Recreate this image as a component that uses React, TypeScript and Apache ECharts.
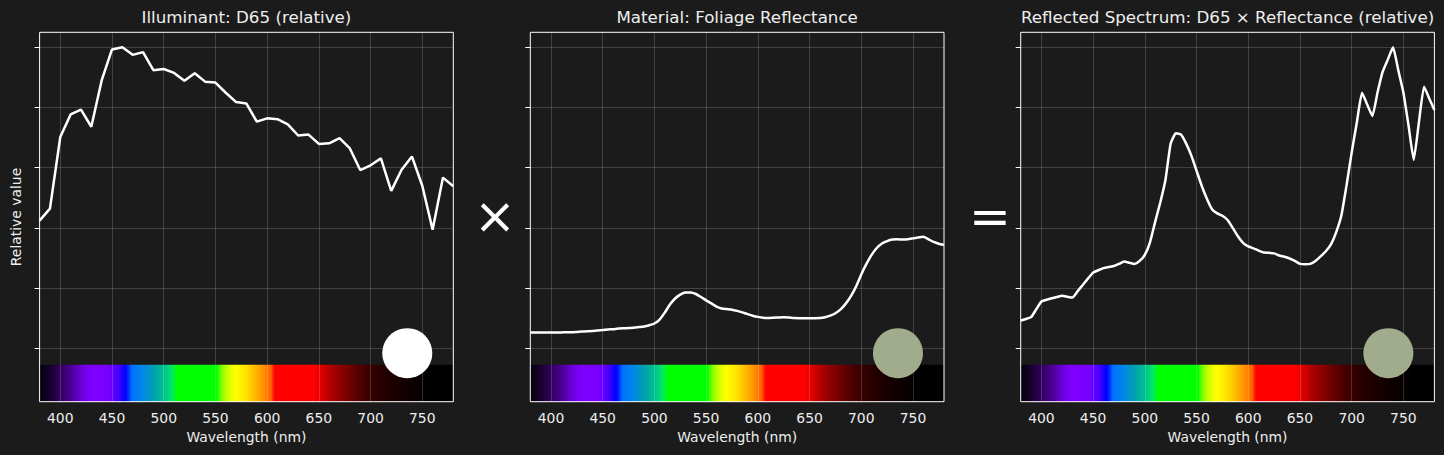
import React, { useEffect, useRef } from "react";
import * as echarts from "echarts";

const FONT = "'DejaVu Sans', sans-serif";
const BG = "#1b1b1b";
const TEXT = "#eeeeee";
const GRIDLINE = "rgba(255,255,255,0.17)";

const panelTitles = [
  "Illuminant: D65 (relative)",
  "Material: Foliage Reflectance",
  "Reflected Spectrum: D65 \u00d7 Reflectance (relative)",
];
const xAxisName = "Wavelength (nm)";
const yAxisName = "Relative value";
const xTicks = [400, 450, 500, 550, 600, 650, 700, 750];
const yTicks = [0, 0.2, 0.4, 0.6, 0.8, 1.0];
const xRange = [380, 780];
const yRange = [-0.178, 1.05];
const spectrumBand = [-0.178, -0.055];
const swatchPoint = [735.5, -0.0166];
const swatchColors = ["#ffffff", "#a0ac8b", "#a0ac8b"];

const wl10 = [380, 390, 400, 410, 420, 430, 440, 450, 460, 470, 480, 490, 500, 510, 520, 530, 540, 550, 560, 570, 580, 590, 600, 610, 620, 630, 640, 650, 660, 670, 680, 690, 700, 710, 720, 730, 740, 750, 760, 770, 780];
const d65 = [0.424, 0.464, 0.702, 0.777, 0.793, 0.736, 0.890, 0.993, 1.000, 0.975, 0.984, 0.924, 0.928, 0.915, 0.889, 0.914, 0.886, 0.883, 0.849, 0.818, 0.813, 0.753, 0.764, 0.761, 0.744, 0.707, 0.710, 0.679, 0.681, 0.698, 0.664, 0.592, 0.608, 0.631, 0.523, 0.593, 0.637, 0.540, 0.394, 0.567, 0.538];

const wl5 = [380, 385, 390, 395, 400, 405, 410, 415, 420, 425, 430, 435, 440, 445, 450, 455, 460, 465, 470, 475, 480, 485, 490, 495, 500, 505, 510, 515, 520, 525, 530, 535, 540, 545, 550, 555, 560, 565, 570, 575, 580, 585, 590, 595, 600, 605, 610, 615, 620, 625, 630, 635, 640, 645, 650, 655, 660, 665, 670, 675, 680, 685, 690, 695, 700, 705, 710, 715, 720, 725, 730, 735, 740, 745, 750, 755, 760, 765, 770, 775, 780];
const reflectance = [0.052, 0.052, 0.052, 0.052, 0.052, 0.052, 0.052, 0.053, 0.053, 0.054, 0.055, 0.056, 0.057, 0.059, 0.060, 0.062, 0.063, 0.065, 0.066, 0.067, 0.068, 0.070, 0.072, 0.076, 0.082, 0.095, 0.118, 0.145, 0.165, 0.178, 0.185, 0.185, 0.180, 0.170, 0.159, 0.149, 0.138, 0.132, 0.130, 0.128, 0.124, 0.119, 0.113, 0.108, 0.104, 0.101, 0.100, 0.101, 0.102, 0.103, 0.102, 0.100, 0.0995, 0.0995, 0.0995, 0.0995, 0.100, 0.103, 0.108, 0.116, 0.129, 0.148, 0.173, 0.205, 0.245, 0.280, 0.310, 0.333, 0.348, 0.356, 0.361, 0.362, 0.361, 0.362, 0.365, 0.368, 0.370, 0.362, 0.353, 0.347, 0.343];
const reflected = [0.092, 0.097, 0.103, 0.129, 0.155, 0.161, 0.166, 0.170, 0.174, 0.171, 0.168, 0.189, 0.210, 0.231, 0.251, 0.259, 0.266, 0.270, 0.273, 0.280, 0.288, 0.284, 0.280, 0.290, 0.310, 0.352, 0.420, 0.485, 0.560, 0.680, 0.714, 0.710, 0.680, 0.640, 0.590, 0.540, 0.497, 0.462, 0.448, 0.440, 0.426, 0.400, 0.372, 0.350, 0.338, 0.332, 0.324, 0.318, 0.317, 0.315, 0.308, 0.304, 0.298, 0.290, 0.280, 0.279, 0.280, 0.290, 0.305, 0.322, 0.345, 0.385, 0.440, 0.540, 0.650, 0.750, 0.849, 0.810, 0.772, 0.850, 0.919, 0.960, 1.000, 0.925, 0.850, 0.740, 0.626, 0.750, 0.869, 0.830, 0.792];

const spectrumStops: [number, string][] = [
  [380, "#05000a"], [390, "#18002e"], [400, "#30005c"], [410, "#4a0090"], [420, "#6a00d8"],
  [427, "#7a00f8"], [432, "#8000ff"], [446, "#7800ff"], [456, "#4800ff"], [463, "#0000ff"],
  [466, "#0030ff"], [469, "#0070ff"], [480, "#0088e8"], [490, "#00a0b0"], [500, "#00c090"],
  [508, "#00e868"], [513, "#00ff00"], [551, "#00ff00"], [556, "#80ff00"], [561, "#c0ff00"],
  [566, "#eeff00"], [570, "#ffff00"], [580, "#ffe000"], [590, "#ffb000"], [598, "#ff8800"],
  [604, "#ff6000"], [606, "#ff2000"], [608, "#ff0000"], [646, "#ff0000"], [655, "#d00000"],
  [665, "#a00000"], [680, "#700000"], [695, "#400000"], [710, "#280000"], [730, "#140000"],
  [750, "#050000"], [760, "#000000"], [780, "#000000"],
];

const gridLefts = [39.6, 530.3, 1020.7];
const GRID_TOP = 32.3;
const GRID_W = 413.7;
const GRID_H = 369.4;

export default function App() {
  const ref = useRef<HTMLDivElement>(null);
  useEffect(() => {
    if (!ref.current) return;
    const chart = echarts.init(ref.current, null, { renderer: "svg" });
    const panelData = [
      wl10.map((w, i) => [w, d65[i]]),
      wl5.map((w, i) => [w, reflectance[i]]),
      wl5.map((w, i) => [w, reflected[i]]),
    ];
    const gradient = {
      type: "linear",
      x: 0, y: 0, x2: 1, y2: 0,
      colorStops: spectrumStops.map(([w, c]) => ({ offset: (w - xRange[0]) / (xRange[1] - xRange[0]), color: c })),
    };
    const grids = gridLefts.map((l) => ({
      left: l, top: GRID_TOP, width: GRID_W, height: GRID_H,
      show: true, borderColor: "#ffffff", borderWidth: 1, backgroundColor: "transparent",
    }));
    const xAxes = gridLefts.map((_, i) => ({
      type: "value", gridIndex: i, min: xRange[0], max: xRange[1],
      name: xAxisName, nameLocation: "middle", nameGap: 28,
      nameTextStyle: { color: TEXT, fontFamily: FONT, fontSize: 13.9 },
      axisLine: { show: false },
      axisTick: { show: false, customValues: xTicks },
      axisLabel: { show: true, customValues: xTicks, color: TEXT, fontFamily: FONT, fontSize: 13.9, margin: 9 },
      splitLine: { show: true, lineStyle: { color: GRIDLINE, width: 1 } },
    }));
    const yAxes = gridLefts.map((_, i) => ({
      type: "value", gridIndex: i, min: yRange[0], max: yRange[1],
      name: i === 0 ? yAxisName : "", nameLocation: "middle", nameGap: 17,
      nameTextStyle: { color: TEXT, fontFamily: FONT, fontSize: 13.9 },
      axisLine: { show: false },
      axisTick: { show: true, inside: false, length: 5, customValues: yTicks, lineStyle: { color: "#ffffff", width: 1 } },
      axisLabel: { show: false },
      splitLine: { show: true, lineStyle: { color: GRIDLINE, width: 1 } },
    }));
    const series: any[] = [];
    gridLefts.forEach((_, i) => {
      series.push({
        type: "line", xAxisIndex: i, yAxisIndex: i, data: [], silent: true,
        markArea: {
          silent: true, z: -1,
          itemStyle: { color: gradient, borderWidth: 0 },
          data: [[{ coord: [xRange[0], spectrumBand[0]] }, { coord: [xRange[1], spectrumBand[1]] }]],
        },
      });
      series.push({
        type: "line", xAxisIndex: i, yAxisIndex: i, data: panelData[i],
        showSymbol: false, symbol: "none", smooth: i === 0 ? false : 0.15, z: 3,
        lineStyle: { color: "#ffffff", width: 2.5 },
      });
      series.push({
        type: "scatter", xAxisIndex: i, yAxisIndex: i, data: [swatchPoint],
        symbol: "circle", symbolSize: 50, z: 4,
        itemStyle: { color: swatchColors[i], opacity: 1 },
      });
    });
    const titles = gridLefts.map((l, i) => ({
      text: panelTitles[i], left: l + GRID_W / 2, top: 8, textAlign: "center", padding: 0,
      textStyle: { color: TEXT, fontFamily: FONT, fontSize: 16.7, fontWeight: "normal" },
    }));
    chart.setOption({
      animation: false,
      backgroundColor: BG,
      title: titles,
      grid: grids,
      xAxis: xAxes,
      yAxis: yAxes,
      series,
      graphic: [
        { type: "text", x: 495, y: 216, style: { text: "\u00d7", fontSize: 50, fill: "#ffffff", align: "center", verticalAlign: "middle", fontFamily: FONT } },
        { type: "text", x: 990, y: 217, style: { text: "=", fontSize: 50, fill: "#ffffff", align: "center", verticalAlign: "middle", fontFamily: FONT } },
      ],
    });
    return () => chart.dispose();
  }, []);
  return <div ref={ref} style={{ position: "fixed", left: 0, top: 0, width: 1444, height: 455 }} />;
}
